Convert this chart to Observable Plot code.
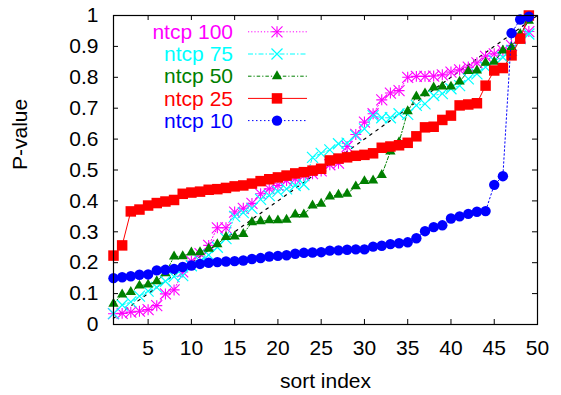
<!DOCTYPE html>
<html><head><meta charset="utf-8">
<script src="https://cdn.jsdelivr.net/npm/d3@7"></script>
<script src="https://cdn.jsdelivr.net/npm/@observablehq/plot@0.6"></script>
<style>
html,body{margin:0;padding:0;background:#fff;}
#chart{width:561px;height:395px;}
</style></head><body><div id="chart"></div>
<script>
// ---- data ----
const ntcp100 = [0.035,0.036,0.040,0.043,0.048,0.061,0.099,0.112,0.170,0.205,0.229,0.256,0.313,0.313,0.364,0.376,0.392,0.423,0.439,0.450,0.466,0.471,0.482,0.488,0.497,0.517,0.522,0.576,0.615,0.655,0.682,0.727,0.749,0.757,0.800,0.803,0.803,0.804,0.808,0.817,0.824,0.833,0.847,0.868,0.876,0.887,0.903,0.930,0.948];
const ntcp75  = [0.035,0.063,0.073,0.092,0.108,0.120,0.140,0.155,0.158,0.190,0.205,0.225,0.250,0.278,0.350,0.362,0.376,0.405,0.417,0.431,0.439,0.450,0.453,0.541,0.554,0.565,0.585,0.587,0.612,0.633,0.676,0.669,0.669,0.682,0.680,0.709,0.714,0.741,0.747,0.763,0.773,0.795,0.811,0.833,0.854,0.865,0.887,0.925,0.940];
const ntcp50  = [0.067,0.097,0.105,0.126,0.129,0.140,0.166,0.220,0.221,0.233,0.234,0.245,0.260,0.283,0.285,0.293,0.331,0.334,0.337,0.337,0.339,0.356,0.356,0.385,0.391,0.414,0.420,0.423,0.447,0.464,0.466,0.484,0.560,0.590,0.690,0.738,0.748,0.767,0.770,0.770,0.786,0.820,0.822,0.847,0.850,0.887,0.897,0.940,0.983];
const ntcp25  = [0.223,0.256,0.366,0.372,0.385,0.393,0.398,0.403,0.423,0.427,0.430,0.436,0.438,0.442,0.447,0.450,0.456,0.464,0.470,0.476,0.482,0.489,0.493,0.498,0.504,0.531,0.537,0.541,0.546,0.549,0.554,0.572,0.576,0.580,0.588,0.609,0.638,0.640,0.662,0.676,0.709,0.712,0.716,0.773,0.822,0.830,0.871,0.925,1.000];
const ntcp10  = [0.150,0.153,0.156,0.161,0.162,0.175,0.177,0.180,0.186,0.191,0.196,0.200,0.202,0.204,0.205,0.207,0.212,0.215,0.220,0.222,0.224,0.229,0.232,0.233,0.234,0.239,0.240,0.242,0.243,0.243,0.252,0.255,0.260,0.263,0.266,0.279,0.302,0.315,0.321,0.343,0.350,0.358,0.365,0.367,0.452,0.480,0.943,0.987,0.996];
const seriesNames = ["ntcp 100","ntcp 75","ntcp 50","ntcp 25","ntcp 10"];
const diagonalX = [1, 50];
const diagonalY = [0.02, 1];
const xTicks = [5,10,15,20,25,30,35,40,45,50];
const yTicks = [0,0.1,0.2,0.3,0.4,0.5,0.6,0.7,0.8,0.9,1];
const yTickLabels = ["0","0.1","0.2","0.3","0.4","0.5","0.6","0.7","0.8","0.9","1"];
const xLabel = "sort index";
const yLabel = "P-value";

// ---- styling ----
const W = 561, H = 395, mL = 113, mR = 24, mT = 15, mB = 71;
const pw = W - mL - mR, ph = H - mT - mB;
const tickLen = 5;
const styles = [
  {color:"#ff00ff", dash:"1.2,2", marker:"asterisk"},
  {color:"#00ffff", dash:"5,2,1.5,2", marker:"times"},
  {color:"#008000", dash:"3.5,2,1.2,2", marker:"triangle"},
  {color:"#ff0000", dash:null, marker:"square"},
  {color:"#0000ff", dash:"1.5,2.5", marker:"circle"}
];
const allValues = [ntcp100, ntcp75, ntcp50, ntcp25, ntcp10];
const series = allValues.map((vals, k) => ({
  name: seriesNames[k], ...styles[k],
  rows: vals.map((v, i) => ({x: i + 1, y: v}))
}));
const rTimes = 5.07, rPlus = 3.63, rTri = 3.82, rSq = 5.92, rCirc = 5.2;

function markerMarks(s) {
  const base = {x: "x", y: "y"};
  switch (s.marker) {
    case "asterisk": return [
      Plot.dot(s.rows, {...base, symbol: "plus", r: rPlus, stroke: s.color, fill: "none", strokeWidth: 1.1}),
      Plot.dot(s.rows, {...base, symbol: "times", r: rTimes, stroke: s.color, fill: "none", strokeWidth: 1.1})
    ];
    case "times": return [Plot.dot(s.rows, {...base, symbol: "times", r: rTimes, stroke: s.color, fill: "none", strokeWidth: 1.2})];
    case "triangle": return [Plot.dot(s.rows, {...base, symbol: "triangle", r: rTri, fill: s.color, stroke: "none"})];
    case "square": return [Plot.dot(s.rows, {...base, symbol: "square", r: rSq, fill: s.color, stroke: "none"})];
    default: return [Plot.dot(s.rows, {...base, symbol: "circle", r: rCirc, fill: s.color, stroke: "none"})];
  }
}

const marks = [
  Plot.line(diagonalX.map((x, i) => ({x, y: diagonalY[i]})), {x: "x", y: "y", stroke: "black", strokeWidth: 1.2, strokeDasharray: "2.5,5"})
];
for (const s of series) {
  marks.push(Plot.line(s.rows, {x: "x", y: "y", stroke: s.color, strokeWidth: 1, strokeDasharray: s.dash || undefined}));
  marks.push(...markerMarks(s));
}
marks.push(
  Plot.frame({stroke: "black", strokeWidth: 1.2}),
  Plot.ruleX(xTicks, {x: d => d, insetTop: ph - tickLen, stroke: "black"}),
  Plot.ruleX(xTicks, {x: d => d, insetBottom: ph - tickLen, stroke: "black"}),
  Plot.ruleY(yTicks, {y: d => d, insetRight: pw - tickLen, stroke: "black"}),
  Plot.ruleY(yTicks, {y: d => d, insetLeft: pw - tickLen, stroke: "black"}),
  Plot.text(xTicks, {x: d => d, frameAnchor: "bottom", dy: 16, lineAnchor: "top", text: d => String(d), fill: "black"}),
  Plot.text(yTicks, {y: d => d, frameAnchor: "left", dx: -15, textAnchor: "end", text: (d, i) => yTickLabels[i], fill: "black"}),
  Plot.text([xLabel], {frameAnchor: "bottom", dy: 63, lineAnchor: "bottom", text: d => d, fill: "black"}),
  Plot.text([yLabel], {frameAnchor: "left", dx: -87, rotate: -90, lineAnchor: "bottom", text: d => d, fill: "black"})
);

const svg = Plot.plot({
  width: W, height: H,
  marginLeft: mL, marginRight: mR, marginTop: mT, marginBottom: mB,
  x: {domain: [1, 50], axis: null},
  y: {domain: [0, 1], axis: null},
  style: {fontFamily: "'Liberation Sans', Arial, sans-serif", fontSize: "21px", background: "white", overflow: "visible"},
  marks
});

// ---- legend (inside the frame, top-left) ----
const lg = d3.select(svg).append("g");
const textRight = 233, lineX1 = 248, lineX2 = 307, markX = 277, row0 = 31.8, rowStep = 22.2;
const symOf = (t, r) => d3.symbol().type(t).size(Math.PI * r * r)();
series.forEach((s, k) => {
  const y = row0 + k * rowStep;
  lg.append("text").attr("x", textRight).attr("y", y).attr("dy", "0.34em")
    .attr("text-anchor", "end").attr("fill", s.color).text(s.name);
  const ln = lg.append("line").attr("x1", lineX1).attr("x2", lineX2).attr("y1", y).attr("y2", y)
    .attr("stroke", s.color).attr("stroke-width", 1);
  if (s.dash) ln.attr("stroke-dasharray", s.dash);
  const g = lg.append("g").attr("transform", `translate(${markX},${y})`);
  if (s.marker === "asterisk") {
    g.append("path").attr("d", symOf(d3.symbolPlus, rPlus)).attr("stroke", s.color).attr("fill", "none").attr("stroke-width", 1.1);
    g.append("path").attr("d", symOf(d3.symbolTimes, rTimes)).attr("stroke", s.color).attr("fill", "none").attr("stroke-width", 1.1);
  } else if (s.marker === "times") {
    g.append("path").attr("d", symOf(d3.symbolTimes, rTimes)).attr("stroke", s.color).attr("fill", "none").attr("stroke-width", 1.2);
  } else if (s.marker === "triangle") {
    g.append("path").attr("d", symOf(d3.symbolTriangle, rTri)).attr("fill", s.color);
  } else if (s.marker === "square") {
    g.append("path").attr("d", symOf(d3.symbolSquare, rSq)).attr("fill", s.color);
  } else {
    g.append("path").attr("d", symOf(d3.symbolCircle, rCirc)).attr("fill", s.color);
  }
});

document.getElementById("chart").appendChild(svg);
</script></body></html>
